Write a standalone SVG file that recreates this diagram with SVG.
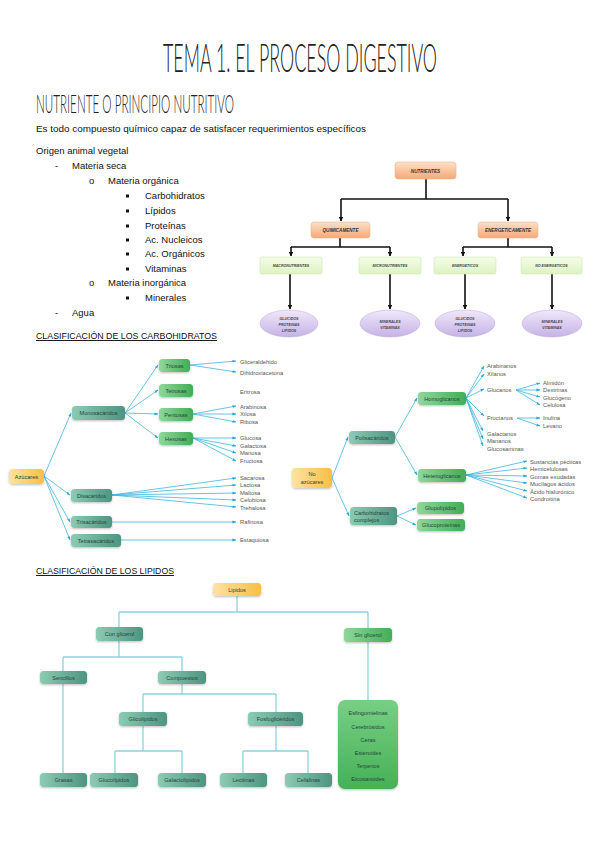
<svg xmlns="http://www.w3.org/2000/svg" width="599" height="848" viewBox="0 0 599 848">
<defs>
<style>
.t{font-family:"Liberation Sans",Arial,sans-serif;fill:#111}
.ttl{font-family:"Lato","Open Sans",sans-serif;font-weight:300;fill:#222}
.nb{font-family:"Liberation Sans",Arial,sans-serif;font-size:4.6px;font-style:italic;font-weight:bold;fill:#333;text-anchor:middle}
.ne{font-family:"Liberation Sans",Arial,sans-serif;font-size:3.6px;font-style:italic;font-weight:bold;fill:#444;text-anchor:middle}
.bx{font-family:"Liberation Sans",Arial,sans-serif;font-size:5.6px;fill:#26463c;text-anchor:middle}
.bxl{font-family:"Liberation Sans",Arial,sans-serif;font-size:5.6px;fill:#26463c;text-anchor:start}
.lf{font-family:"Liberation Sans",Arial,sans-serif;font-size:5.8px;fill:#555}
.k{stroke:#111;stroke-width:1.6;fill:none}
.c{stroke:#3db6dd;stroke-width:0.8;fill:none}
.l{stroke:#8fd2e0;stroke-width:1.3;fill:none}
.sq{fill:#111}
</style>
<linearGradient id="gOr" x1="0" y1="0" x2="0" y2="1"><stop offset="0" stop-color="#fde0c8"/><stop offset="1" stop-color="#f5a877"/></linearGradient>
<linearGradient id="gLg" x1="0" y1="0" x2="0" y2="1"><stop offset="0" stop-color="#f5fce9"/><stop offset="1" stop-color="#ddf3c2"/></linearGradient>
<linearGradient id="gPu" x1="0" y1="0" x2="0" y2="1"><stop offset="0" stop-color="#efe8fa"/><stop offset="1" stop-color="#c6b2e6"/></linearGradient>
<linearGradient id="gY" x1="0" y1="0" x2="1" y2="0"><stop offset="0" stop-color="#fde3a0"/><stop offset="1" stop-color="#f8bf45"/></linearGradient>
<linearGradient id="gT" x1="0" y1="0" x2="1" y2="0"><stop offset="0" stop-color="#8ccbb3"/><stop offset="1" stop-color="#4e9481"/></linearGradient>
<linearGradient id="gG" x1="0" y1="0" x2="1" y2="0"><stop offset="0" stop-color="#8fd79a"/><stop offset="1" stop-color="#42ad55"/></linearGradient>
<linearGradient id="gGv" x1="0" y1="0" x2="0" y2="1"><stop offset="0" stop-color="#78cf84"/><stop offset="1" stop-color="#45b157"/></linearGradient>
<filter id="sh" x="-20%" y="-30%" width="140%" height="170%"><feDropShadow dx="0" dy="1" stdDeviation="0.9" flood-color="#000" flood-opacity="0.25"/></filter>
<marker id="ak" viewBox="0 0 10 10" refX="9" refY="5" markerWidth="3" markerHeight="3" orient="auto"><path d="M0 0L10 5L0 10z" fill="#111"/></marker>
<marker id="ac" viewBox="0 0 10 10" refX="9" refY="5" markerWidth="5" markerHeight="5" orient="auto"><path d="M0 1.5L10 5L0 8.5z" fill="#2aa8d8"/></marker>
</defs>
<rect width="599" height="848" fill="#fff"/>

<g id="header">
<g transform="translate(163 72) scale(0.5 1)"><text class="ttl" x="0" y="0" font-size="40" textLength="548" lengthAdjust="spacingAndGlyphs">TEMA 1. EL PROCESO DIGESTIVO</text></g>
<g transform="translate(36 113) scale(0.5 1)"><text class="ttl" x="0" y="0" font-size="24.5" textLength="396" lengthAdjust="spacingAndGlyphs">NUTRIENTE O PRINCIPIO NUTRITIVO</text></g>
<text class="t" x="36" y="132" font-size="9.5" textLength="330" lengthAdjust="spacingAndGlyphs">Es todo compuesto químico capaz de satisfacer requerimientos específicos</text>
</g>

<g id="list" class="t" font-size="9.5">
<text x="36" y="154">Origen animal vegetal</text>
<text x="55" y="169">-</text><text x="72" y="169">Materia seca</text>
<text x="89" y="184">o</text><text x="108" y="184">Materia orgánica</text>
<rect class="sq" x="126" y="194.5" width="3" height="3"/><text x="145" y="199">Carbohidratos</text>
<rect class="sq" x="126" y="209.5" width="3" height="3"/><text x="145" y="214">Lípidos</text>
<rect class="sq" x="126" y="224.5" width="3" height="3"/><text x="145" y="229">Proteínas</text>
<rect class="sq" x="126" y="238.5" width="3" height="3"/><text x="145" y="243">Ac. Nucleicos</text>
<rect class="sq" x="126" y="252.5" width="3" height="3"/><text x="145" y="257">Ac. Orgánicos</text>
<rect class="sq" x="126" y="267.5" width="3" height="3"/><text x="145" y="272">Vitaminas</text>
<text x="89" y="286">o</text><text x="108" y="286">Materia inorgánica</text>
<rect class="sq" x="126" y="296.5" width="3" height="3"/><text x="145" y="301">Minerales</text>
<text x="55" y="316">-</text><text x="72" y="316">Agua</text>
</g>

<g id="nutrientes-connectors">
<path class="k" d="M426 179V199M341 199H508"/>
<path class="k" d="M341 199V221" marker-end="url(#ak)"/>
<path class="k" d="M508 199V221" marker-end="url(#ak)"/>
<path class="k" d="M340 238V247M291 247H390M463 247H552M508 238V247"/>
<path class="k" d="M291 247V256" marker-end="url(#ak)"/>
<path class="k" d="M390 247V256" marker-end="url(#ak)"/>
<path class="k" d="M463 247V256" marker-end="url(#ak)"/>
<path class="k" d="M552 247V256" marker-end="url(#ak)"/>
<path class="k" d="M290 274V309" marker-end="url(#ak)"/>
<path class="k" d="M390 274V309" marker-end="url(#ak)"/>
<path class="k" d="M465 274V309" marker-end="url(#ak)"/>
<path class="k" d="M552 274V309" marker-end="url(#ak)"/>
</g>
<g id="n-nutrientes"><rect x="395" y="162" width="61" height="17" rx="3" fill="url(#gOr)" stroke="#eeb590" stroke-width="0.6"/><text class="nb" x="425.5" y="172.5">NUTRIENTES</text></g>
<g id="n-quimicamente"><rect x="311" y="222" width="59" height="16" rx="3" fill="url(#gOr)" stroke="#eeb590" stroke-width="0.6"/><text class="nb" x="340.5" y="232">QUIMICAMENTE</text></g>
<g id="n-energeticamente"><rect x="478" y="222" width="60" height="16" rx="3" fill="url(#gOr)" stroke="#eeb590" stroke-width="0.6"/><text class="nb" x="508" y="232">ENERGETICAMENTE</text></g>
<g id="n-macro"><rect x="260" y="257" width="62" height="17" rx="2" fill="url(#gLg)" stroke="#cde8b0" stroke-width="0.6"/><text class="ne" x="291" y="267">MACRONUTRIENTES</text></g>
<g id="n-micro"><rect x="359" y="257" width="62" height="17" rx="2" fill="url(#gLg)" stroke="#cde8b0" stroke-width="0.6"/><text class="ne" x="390" y="267">MICRONUTRIENTES</text></g>
<g id="n-energeticos"><rect x="434" y="257" width="62" height="17" rx="2" fill="url(#gLg)" stroke="#cde8b0" stroke-width="0.6"/><text class="ne" x="465" y="267">ENERGETICOS</text></g>
<g id="n-noenergeticos"><rect x="521" y="257" width="61" height="17" rx="2" fill="url(#gLg)" stroke="#cde8b0" stroke-width="0.6"/><text class="ne" x="551.5" y="267">NO ENERGETICOS</text></g>
<g id="n-e1"><ellipse cx="289" cy="323.5" rx="29" ry="13.5" fill="url(#gPu)" stroke="#bba6df" stroke-width="0.5"/><text class="ne" x="289" y="319.5">GLUCIDOS</text><text class="ne" x="289" y="325.5">PROTEINAS</text><text class="ne" x="289" y="331.5">LIPIDOS</text></g>
<g id="n-e2"><ellipse cx="390" cy="323.5" rx="30" ry="13.5" fill="url(#gPu)" stroke="#bba6df" stroke-width="0.5"/><text class="ne" x="390" y="322.5">MINERALES</text><text class="ne" x="390" y="328.5">VITAMINAS</text></g>
<g id="n-e3"><ellipse cx="465" cy="323.5" rx="30" ry="13.5" fill="url(#gPu)" stroke="#bba6df" stroke-width="0.5"/><text class="ne" x="465" y="319.5">GLUCIDOS</text><text class="ne" x="465" y="325.5">PROTEINAS</text><text class="ne" x="465" y="331.5">LIPIDOS</text></g>
<g id="n-e4"><ellipse cx="552" cy="323.5" rx="30" ry="13.5" fill="url(#gPu)" stroke="#bba6df" stroke-width="0.5"/><text class="ne" x="552" y="322.5">MINERALES</text><text class="ne" x="552" y="328.5">VITAMINAS</text></g>

<text class="t" x="36" y="339" font-size="9.5" text-decoration="underline" textLength="181" lengthAdjust="spacingAndGlyphs">CLASIFICACIÓN DE LOS CARBOHIDRATOS</text>

<g id="carb-connectors">
<path class="c" d="M44 476L71 413" marker-end="url(#ac)"/>
<path class="c" d="M44 476L70 495" marker-end="url(#ac)"/>
<path class="c" d="M44 476L70 522" marker-end="url(#ac)"/>
<path class="c" d="M44 476L70 540" marker-end="url(#ac)"/>
<path class="c" d="M125 413L158 365" marker-end="url(#ac)"/>
<path class="c" d="M125 413L158 390" marker-end="url(#ac)"/>
<path class="c" d="M125 413L158 414" marker-end="url(#ac)"/>
<path class="c" d="M125 413L158 438" marker-end="url(#ac)"/>
<path class="c" d="M190 365L236 361" marker-end="url(#ac)"/>
<path class="c" d="M190 365L236 372" marker-end="url(#ac)"/>
<path class="c" d="M193 414L236 406" marker-end="url(#ac)"/>
<path class="c" d="M193 414L236 414" marker-end="url(#ac)"/>
<path class="c" d="M193 414L236 422" marker-end="url(#ac)"/>
<path class="c" d="M193 438L236 438" marker-end="url(#ac)"/>
<path class="c" d="M193 438L236 446" marker-end="url(#ac)"/>
<path class="c" d="M193 438L236 453" marker-end="url(#ac)"/>
<path class="c" d="M193 438L236 461" marker-end="url(#ac)"/>
<path class="c" d="M112 495L236 478" marker-end="url(#ac)"/>
<path class="c" d="M112 495L236 485" marker-end="url(#ac)"/>
<path class="c" d="M112 495L236 493" marker-end="url(#ac)"/>
<path class="c" d="M112 495L236 500" marker-end="url(#ac)"/>
<path class="c" d="M112 495L236 507" marker-end="url(#ac)"/>
<path class="c" d="M112 522L236 522" marker-end="url(#ac)"/>
<path class="c" d="M121 540L236 540" marker-end="url(#ac)"/>
<path class="c" d="M332 478L348 437" marker-end="url(#ac)"/>
<path class="c" d="M332 478L349 516" marker-end="url(#ac)"/>
<path class="c" d="M395 437L417 398" marker-end="url(#ac)"/>
<path class="c" d="M395 437L417 475" marker-end="url(#ac)"/>
<path class="c" d="M397 516L416 508" marker-end="url(#ac)"/>
<path class="c" d="M397 516L416 525" marker-end="url(#ac)"/>
<path class="c" d="M466 398L484 366" marker-end="url(#ac)"/>
<path class="c" d="M466 398L484 374" marker-end="url(#ac)"/>
<path class="c" d="M466 398L484 389" marker-end="url(#ac)"/>
<path class="c" d="M466 398L484 416" marker-end="url(#ac)"/>
<path class="c" d="M466 398L483 431" marker-end="url(#ac)"/>
<path class="c" d="M466 398L483 439" marker-end="url(#ac)"/>
<path class="c" d="M466 398L483 446" marker-end="url(#ac)"/>
<path class="c" d="M516 390L540 383" marker-end="url(#ac)"/>
<path class="c" d="M516 390L540 390" marker-end="url(#ac)"/>
<path class="c" d="M516 390L540 397" marker-end="url(#ac)"/>
<path class="c" d="M516 390L540 405" marker-end="url(#ac)"/>
<path class="c" d="M517 418L540 418" marker-end="url(#ac)"/>
<path class="c" d="M517 418L540 426" marker-end="url(#ac)"/>
<path class="c" d="M466 475L527 461" marker-end="url(#ac)"/>
<path class="c" d="M466 475L527 468" marker-end="url(#ac)"/>
<path class="c" d="M466 475L527 476" marker-end="url(#ac)"/>
<path class="c" d="M466 475L527 483" marker-end="url(#ac)"/>
<path class="c" d="M466 475L527 491" marker-end="url(#ac)"/>
<path class="c" d="M466 475L527 498" marker-end="url(#ac)"/>
</g>

<g id="c-azucares"><rect x="9" y="469" width="35" height="15" rx="4" fill="url(#gY)" filter="url(#sh)"/><text class="bx" x="26.5" y="478.5" fill="#5a4a20">Azúcares</text></g>
<g id="c-mono"><rect x="72" y="406" width="53" height="14" rx="3.5" fill="url(#gT)" filter="url(#sh)"/><text class="bx" x="98.5" y="415">Monosacáridos</text></g>
<g id="c-di"><rect x="71" y="489" width="41" height="13" rx="3.5" fill="url(#gT)" filter="url(#sh)"/><text class="bx" x="91.5" y="497.5">Disacáridos</text></g>
<g id="c-tri"><rect x="71" y="516" width="41" height="12" rx="3.5" fill="url(#gT)" filter="url(#sh)"/><text class="bx" x="91.5" y="524">Trisacáridos</text></g>
<g id="c-tetra"><rect x="71" y="534" width="50" height="13" rx="3.5" fill="url(#gT)" filter="url(#sh)"/><text class="bx" x="96" y="542.5">Tetrasacáridos</text></g>
<g id="c-triosas"><rect x="159" y="359" width="31" height="13" rx="3.5" fill="url(#gG)" filter="url(#sh)"/><text class="bx" x="174.5" y="367.5">Triosas</text></g>
<g id="c-tetrosas"><rect x="159" y="384" width="34" height="13" rx="3.5" fill="url(#gG)" filter="url(#sh)"/><text class="bx" x="176" y="392.5">Tetrosas</text></g>
<g id="c-pentosas"><rect x="159" y="408" width="34" height="13" rx="3.5" fill="url(#gG)" filter="url(#sh)"/><text class="bx" x="176" y="416.5">Pentosas</text></g>
<g id="c-hexosas"><rect x="159" y="432" width="34" height="13" rx="3.5" fill="url(#gG)" filter="url(#sh)"/><text class="bx" x="176" y="440.5">Hexosas</text></g>

<g id="c-leaves" class="lf">
<text x="240" y="363.5">Gliceraldehido</text>
<text x="240" y="374.5">Dihidroxiacetona</text>
<text x="240" y="393.5">Eritrosa</text>
<text x="240" y="408.5">Arabinosa</text>
<text x="240" y="416">Xilosa</text>
<text x="240" y="424">Ribosa</text>
<text x="240" y="440">Glucosa</text>
<text x="240" y="447.5">Galactosa</text>
<text x="240" y="455">Manosa</text>
<text x="240" y="463">Fructosa</text>
<text x="240" y="480">Sacarosa</text>
<text x="240" y="487">Lactosa</text>
<text x="240" y="494.5">Maltosa</text>
<text x="240" y="502">Celobiosa</text>
<text x="240" y="509.5">Trehalosa</text>
<text x="240" y="524">Rafinosa</text>
<text x="240" y="542">Estaquiosa</text>
</g>

<g id="c-noazucares"><rect x="292" y="468" width="40" height="20" rx="4" fill="url(#gY)" filter="url(#sh)"/><text class="bx" x="312" y="476" fill="#5a4a20">No</text><text class="bx" x="312" y="484" fill="#5a4a20">azúcares</text></g>
<g id="c-poli"><rect x="349" y="431" width="46" height="13" rx="3.5" fill="url(#gT)" filter="url(#sh)"/><text class="bx" x="372" y="439.5">Polisacáridos</text></g>
<g id="c-complejos"><rect x="350" y="507" width="47" height="18" rx="3.5" fill="url(#gT)" filter="url(#sh)"/><text class="bxl" x="354" y="514.5">Carbohidratos</text><text class="bxl" x="354" y="522">complejos</text></g>
<g id="c-homo"><rect x="418" y="392" width="48" height="13" rx="3.5" fill="url(#gG)" filter="url(#sh)"/><text class="bx" x="442" y="400.5">Homoglicanos</text></g>
<g id="c-hetero"><rect x="418" y="469" width="48" height="13" rx="3.5" fill="url(#gG)" filter="url(#sh)"/><text class="bx" x="442" y="477.5">Heteroglicanos</text></g>
<g id="c-glupo"><rect x="417" y="502" width="47" height="12" rx="3.5" fill="url(#gG)" filter="url(#sh)"/><text class="bx" x="440.5" y="510">Glupolípidos</text></g>
<g id="c-gluco"><rect x="417" y="519" width="48" height="12" rx="3.5" fill="url(#gG)" filter="url(#sh)"/><text class="bx" x="441" y="527">Glucoproteínas</text></g>

<g id="c-leaves2" class="lf">
<text x="487" y="368">Arabinanos</text>
<text x="487" y="376">Xilanos</text>
<text x="487" y="392">Glucanos</text>
<text x="543" y="385">Almidón</text>
<text x="543" y="392">Dextrinas</text>
<text x="543" y="399.5">Glucógeno</text>
<text x="543" y="407">Celulosa</text>
<text x="487" y="420">Fructanos</text>
<text x="543" y="420">Inulina</text>
<text x="543" y="428">Levano</text>
<text x="487" y="436">Galactanos</text>
<text x="487" y="443">Mananos</text>
<text x="487" y="451">Glucosaminas</text>
<text x="530" y="463.5">Sustancias pécticas</text>
<text x="530" y="471">Hemicelulosas</text>
<text x="530" y="478.5">Gomas exudadas</text>
<text x="530" y="486">Mucílagos ácidos</text>
<text x="530" y="493.5">Ácido hialurónico</text>
<text x="530" y="501">Condroitina</text>
</g>

<text class="t" x="36" y="574" font-size="9.5" text-decoration="underline" textLength="138" lengthAdjust="spacingAndGlyphs">CLASIFICACIÓN DE LOS LIPIDOS</text>

<g id="lip-connectors">
<path class="l" d="M237 596V612M119 612H368M119 612V627M368 612V628"/>
<path class="l" d="M119 641V657M63 657H182M63 657V671M182 657V671"/>
<path class="l" d="M63 684V773"/>
<path class="l" d="M182 684V694M143 694H276M143 694V712M276 694V712"/>
<path class="l" d="M143 726V751M115 751H182M115 751V773M182 751V773"/>
<path class="l" d="M276 726V751M243 751H308M243 751V773M308 751V773"/>
<path class="l" d="M368 642V700"/>
</g>

<g id="l-lipidos"><rect x="213" y="583" width="48" height="13" rx="3.5" fill="url(#gY)" filter="url(#sh)"/><text class="bx" x="237" y="591.5" fill="#6a5520">Lipidos</text></g>
<g id="l-con"><rect x="96" y="627" width="47" height="14" rx="3.5" fill="url(#gT)" filter="url(#sh)"/><text class="bx" x="119.5" y="636">Con glicerol</text></g>
<g id="l-sin"><rect x="344" y="628" width="48" height="14" rx="3.5" fill="url(#gG)" filter="url(#sh)"/><text class="bx" x="368" y="637">Sin glicerol</text></g>
<g id="l-sencillos"><rect x="40" y="671" width="47" height="13" rx="3.5" fill="url(#gT)" filter="url(#sh)"/><text class="bx" x="63.5" y="679.5">Sencillos</text></g>
<g id="l-compuestos"><rect x="158" y="671" width="48" height="13" rx="3.5" fill="url(#gT)" filter="url(#sh)"/><text class="bx" x="182" y="679.5">Compuestos</text></g>
<g id="l-glicolipidos"><rect x="119" y="712" width="48" height="14" rx="3.5" fill="url(#gT)" filter="url(#sh)"/><text class="bx" x="143" y="721">Glicolípidos</text></g>
<g id="l-fosfo"><rect x="248" y="712" width="55" height="14" rx="3.5" fill="url(#gT)" filter="url(#sh)"/><text class="bx" x="275.5" y="721">Fosfoglicéridos</text></g>
<g id="l-grasas"><rect x="40" y="773" width="47" height="14" rx="3.5" fill="url(#gT)" filter="url(#sh)"/><text class="bx" x="63.5" y="782">Grasas</text></g>
<g id="l-glucolipidos"><rect x="90" y="773" width="48" height="14" rx="3.5" fill="url(#gT)" filter="url(#sh)"/><text class="bx" x="114" y="782">Glucolípidos</text></g>
<g id="l-galacto"><rect x="158" y="773" width="48" height="14" rx="3.5" fill="url(#gT)" filter="url(#sh)"/><text class="bx" x="182" y="782">Galactolípidos</text></g>
<g id="l-lecitinas"><rect x="220" y="773" width="47" height="14" rx="3.5" fill="url(#gT)" filter="url(#sh)"/><text class="bx" x="243.5" y="782">Lecitinas</text></g>
<g id="l-cefalinas"><rect x="285" y="773" width="47" height="14" rx="3.5" fill="url(#gT)" filter="url(#sh)"/><text class="bx" x="308.5" y="782">Cefalinas</text></g>
<g id="l-sinlist"><rect x="338" y="700" width="60" height="89" rx="7" fill="url(#gGv)" filter="url(#sh)"/>
<text class="bx" x="368" y="715">Esfingomielinas</text>
<text class="bx" x="368" y="729">Cerebrósidos</text>
<text class="bx" x="368" y="742">Ceras</text>
<text class="bx" x="368" y="754.5">Esteroides</text>
<text class="bx" x="368" y="768">Terpenos</text>
<text class="bx" x="368" y="781">Eicosanoides</text>
</g>
</svg>
